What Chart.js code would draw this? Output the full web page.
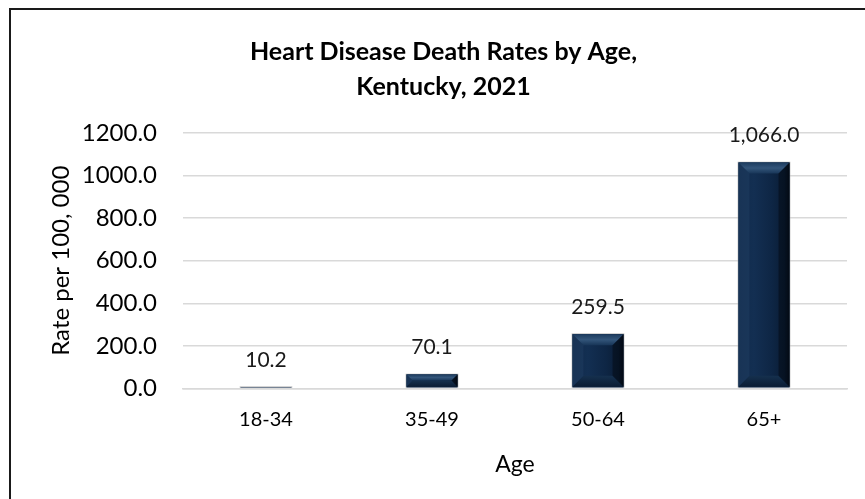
<!DOCTYPE html>
<html>
<head>
<meta charset="utf-8">
<script src="https://cdn.jsdelivr.net/npm/chart.js@4/dist/chart.umd.min.js"></script>
<style>
  html, body { margin: 0; padding: 0; background: #fff; overflow: hidden; }
  #wrap { position: absolute; left: 0; top: 0; width: 865px; height: 499px; }
  #frame { position: absolute; left: 9px; top: 8px; width: 900px; height: 600px;
           border-top: 2px solid #1a1a1a; border-left: 2px solid #1a1a1a; pointer-events: none; }
  canvas { position: absolute; left: 0; top: 0; }
</style>
</head>
<body>
<div id="wrap">
  <canvas id="c" width="865" height="499"></canvas>
  <div id="frame"></div>
</div>
<script>
const categories = ["18-34", "35-49", "50-64", "65+"];
const rates = [10.2, 70.1, 259.5, 1066.0];
const titleLines = ["Heart Disease Death Rates by Age,", "Kentucky, 2021"];
const yAxisTitle = "Rate per 100, 000";
const xAxisTitle = "Age";
const yMin = 0, yMax = 1200, yStep = 200;

const FONT = "Lato, 'Open Sans', sans-serif";

const bevelPlugin = {
  id: 'bevel',
  afterDatasetsDraw(chart) {
    const ctx = chart.ctx;
    const meta = chart.getDatasetMeta(0);
    meta.data.forEach((bar) => {
      const p = bar.getProps(['x', 'y', 'base', 'width'], true);
      const l = p.x - p.width / 2 + 1, r = p.x + p.width / 2 - 1;
      const t = Math.min(p.y, p.base) + 1, b = Math.max(p.y, p.base) - 1;
      const w = r - l, h = b - t;
      if (h <= 0) return;
      ctx.save();
      const g = ctx.createLinearGradient(l, 0, r, 0);
      g.addColorStop(0, '#102b4b');
      g.addColorStop(0.3, '#132f52');
      g.addColorStop(0.65, '#0e2645');
      g.addColorStop(0.9, '#0a1d36');
      g.addColorStop(1, '#050f1e');
      ctx.fillStyle = g;
      ctx.fillRect(l, t, w, h);
      const s = Math.min(11, h / 2, w / 2);
      let gt = ctx.createLinearGradient(0, t, 0, t + s);
      gt.addColorStop(0, '#1c3b5e');
      gt.addColorStop(0.5, '#33557a');
      gt.addColorStop(1, '#183658');
      ctx.fillStyle = gt;
      ctx.beginPath();
      ctx.moveTo(l, t); ctx.lineTo(r, t); ctx.lineTo(r - s, t + s); ctx.lineTo(l + s, t + s); ctx.closePath();
      ctx.fill();
      let gb = ctx.createLinearGradient(0, b - s, 0, b);
      gb.addColorStop(0, '#15304e');
      gb.addColorStop(1, '#0b1d34');
      ctx.fillStyle = gb;
      ctx.beginPath();
      ctx.moveTo(l, b); ctx.lineTo(r, b); ctx.lineTo(r - s, b - s); ctx.lineTo(l + s, b - s); ctx.closePath();
      ctx.fill();
      ctx.fillStyle = 'rgba(40,70,105,0.35)';
      ctx.beginPath();
      ctx.moveTo(l, t); ctx.lineTo(l + s, t + s); ctx.lineTo(l + s, b - s); ctx.lineTo(l, b); ctx.closePath();
      ctx.fill();
      ctx.fillStyle = 'rgba(0,0,0,0.35)';
      ctx.beginPath();
      ctx.moveTo(r, t); ctx.lineTo(r - s, t + s); ctx.lineTo(r - s, b - s); ctx.lineTo(r, b); ctx.closePath();
      ctx.fill();
      ctx.restore();
    });
  }
};

const labelPlugin = {
  id: 'valueLabels',
  afterDatasetsDraw(chart) {
    const ctx = chart.ctx;
    const meta = chart.getDatasetMeta(0);
    ctx.save();
    ctx.font = "21px " + FONT;
    ctx.fillStyle = '#1a1a1a';
    ctx.textAlign = 'center';
    ctx.textBaseline = 'middle';
    meta.data.forEach((bar, i) => {
      const v = chart.data.datasets[0].data[i];
      const txt = v.toLocaleString('en-US', { minimumFractionDigits: 1, maximumFractionDigits: 1 });
      ctx.fillText(txt, bar.x, bar.y - 26);
    });
    ctx.restore();
  }
};

new Chart(document.getElementById('c'), {
  type: 'bar',
  data: {
    labels: categories,
    datasets: [{
      data: rates,
      backgroundColor: '#0d2543',
      borderColor: '#b3b3b3',
      borderWidth: 1,
      barPercentage: 0.32,
      categoryPercentage: 1.0
    }]
  },
  options: {
    responsive: false,
    animation: false,
    layout: { padding: { left: 40, right: 18, top: 0, bottom: 13 } },
    plugins: {
      legend: { display: false },
      tooltip: { enabled: false },
      title: {
        display: true,
        text: titleLines,
        color: '#000',
        font: { family: FONT, size: 25, weight: 'bold', lineHeight: 1.4 },
        padding: { top: 34, bottom: 29 }
      }
    },
    scales: {
      y: {
        min: yMin, max: yMax,
        ticks: {
          stepSize: yStep,
          color: '#000',
          font: { family: FONT, size: 24 },
          padding: 26,
          callback: (v) => Number(v).toFixed(1)
        },
        grid: { color: '#d9d9d9', lineWidth: 1.5, drawTicks: false },
        border: { display: false },
        title: {
          display: true,
          text: yAxisTitle,
          color: '#000',
          font: { family: FONT, size: 24 },
          padding: { top: 7, bottom: 0 }
        },
        afterFit: (s) => { s.width = 143; }
      },
      x: {
        ticks: { color: '#000', font: { family: FONT, size: 20, lineHeight: 1.0 }, padding: 21 },
        grid: { display: false, drawTicks: false },
        border: { display: true, color: '#d9d9d9', width: 1.5 },
        title: {
          display: true,
          text: xAxisTitle,
          color: '#000',
          font: { family: FONT, size: 23 },
          padding: { top: 0, bottom: 8 }
        }
      }
    }
  },
  plugins: [bevelPlugin, labelPlugin]
});
</script>
</body>
</html>
